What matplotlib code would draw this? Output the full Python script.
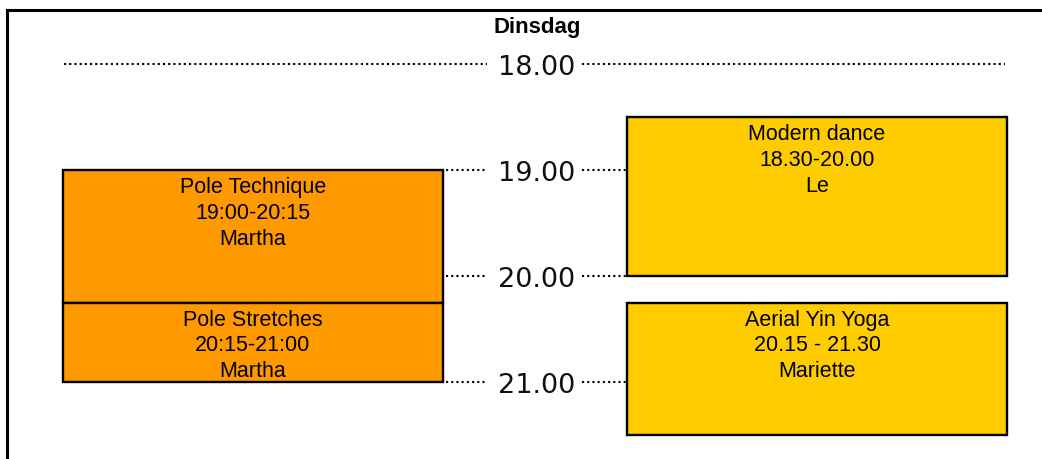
import matplotlib
matplotlib.use("Agg")
import matplotlib.pyplot as plt
from matplotlib.patches import Rectangle
from matplotlib import font_manager

# ---- data ----
day = "Dinsdag"
hour_ticks = [18, 19, 20, 21]
hour_labels = ["18.00", "19.00", "20.00", "21.00"]

class_names = ["Pole Technique", "Pole Stretches", "Modern dance", "Aerial Yin Yoga"]
class_times = ["19:00-20:15", "20:15-21:00", "18.30-20.00", "20.15 - 21.30"]
class_teachers = ["Martha", "Martha", "Le", "Mariette"]
class_start = [19.0, 20.25, 18.5, 20.25]
class_end = [20.25, 21.0, 20.0, 21.5]
class_column = [0, 0, 1, 1]
class_colors = ["#FF9900", "#FF9900", "#FFCC00", "#FFCC00"]

# ---- fonts ----
names = {f.name for f in font_manager.fontManager.ttflist}
narrow = "Liberation Sans Narrow" if "Liberation Sans Narrow" in names else "Liberation Sans"
box_fs = 17.5 if narrow == "Liberation Sans Narrow" else 15.5
box_ls = 1.12 if narrow == "Liberation Sans Narrow" else 1.3

W, H = 1042, 459
fig = plt.figure(figsize=(W / 100, H / 100), dpi=100)
ax = fig.add_axes([0, 0, 1, 1])
ax.set_axis_off()

# layout: x in pixel-like layout units, y in hours
px_per_hour = 106.0
y_top_px = 64.0
ax.set_xlim(0, W)
ax.set_ylim(18 + (H - y_top_px) / px_per_hour, 18 - y_top_px / px_per_hour)

col_left = [63, 627]
col_width = 380
center_x = 537
label_gap_l = 487
label_gap_r = 582

# frame
frame_y = 18 - (y_top_px - 10) / px_per_hour
ax.plot([7, 7], [ax.get_ylim()[0], frame_y], color="black", lw=2.2, solid_capstyle="projecting")
ax.plot([7, W], [frame_y, frame_y], color="black", lw=2.2, solid_capstyle="projecting")

# title
ax.text(center_x, 18 - (y_top_px - 27) / px_per_hour, day, ha="center", va="center",
        fontsize=16, fontweight="bold", family=[narrow, "DejaVu Sans"])

dot = dict(color="black", lw=1.5, dashes=(1, 1.5), solid_capstyle="butt", dash_capstyle="butt")

# class boxes
for name, t, teacher, s, e, c, col in zip(class_names, class_times, class_teachers,
                                          class_start, class_end, class_column, class_colors):
    x0 = col_left[c]
    ax.add_patch(Rectangle((x0, s), col_width, e - s, facecolor=col, edgecolor="black",
                           lw=1.7, zorder=3))
    ax.text(x0 + col_width / 2, s + 7 / px_per_hour, f"{name}\n{t}\n{teacher}",
            ha="center", va="top", fontsize=box_fs, linespacing=box_ls,
            family=[narrow, "DejaVu Sans"], zorder=4)

# hour labels and dotted guides
for h, lab in zip(hour_ticks, hour_labels):
    ax.text(center_x, h + 4 / px_per_hour, lab, ha="center", va="center",
            fontsize=19.5, family="DejaVu Sans", color="#111111")
    if h == hour_ticks[0]:
        lx0, rx1 = col_left[0] + 1, col_left[1] + col_width - 2
    else:
        lx0, rx1 = col_left[0] + col_width + 3, col_left[1]
    ax.plot([lx0, label_gap_l], [h, h], **dot)
    ax.plot([label_gap_r, rx1], [h, h], **dot)

fig.savefig("out.png", dpi=100)
